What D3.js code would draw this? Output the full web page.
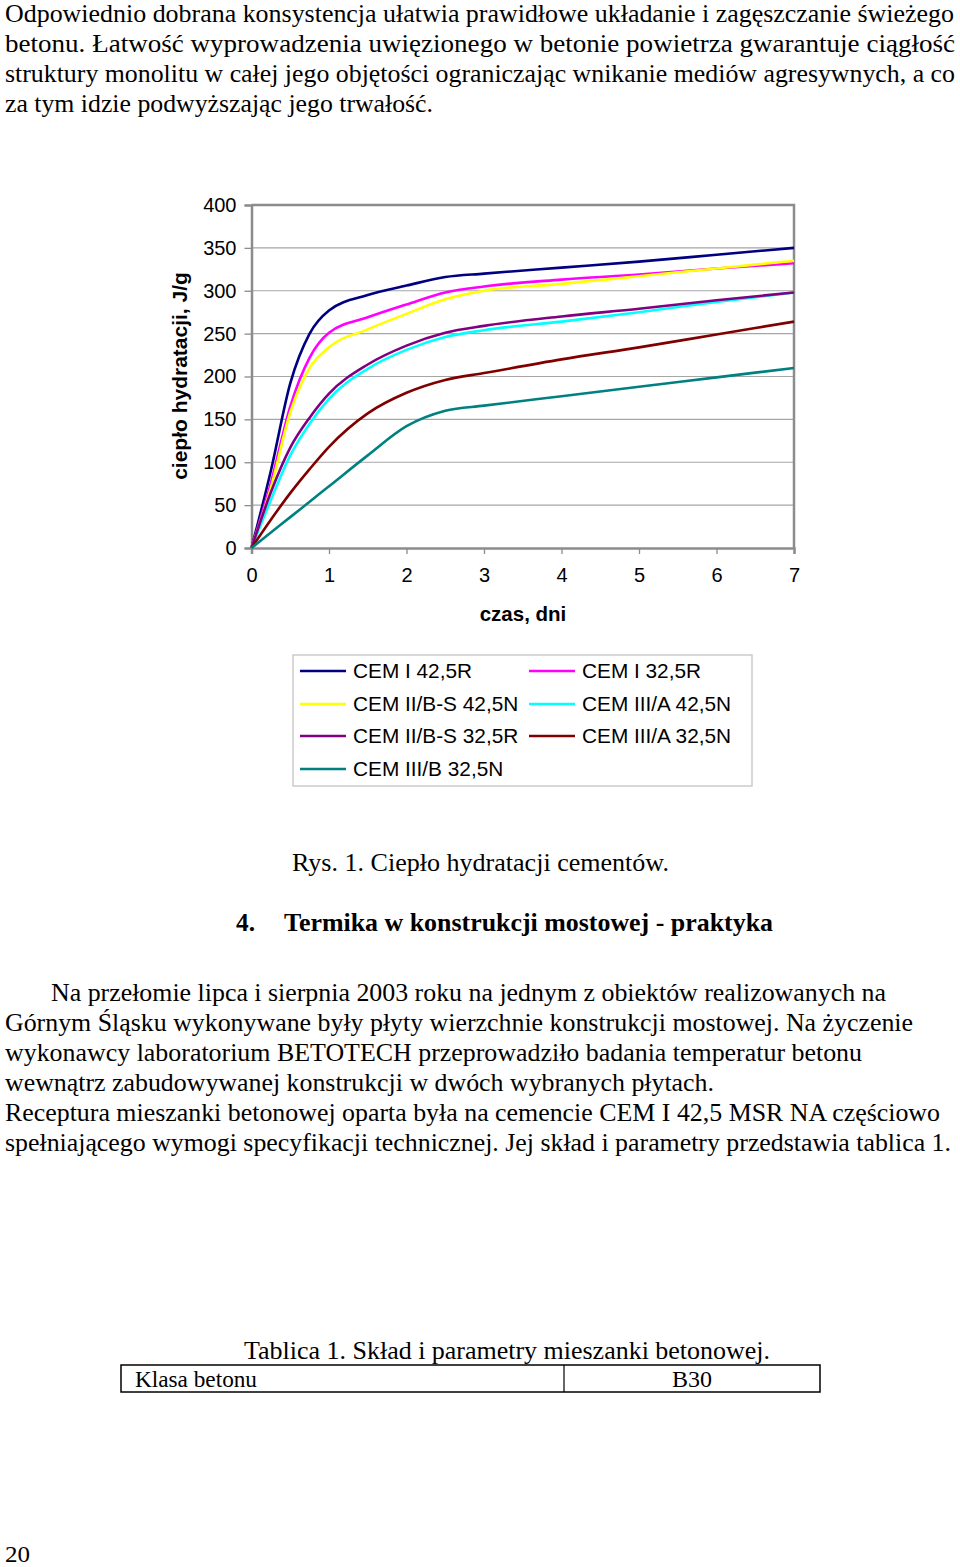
<!DOCTYPE html>
<html>
<head>
<meta charset="utf-8">
<script src="https://cdn.jsdelivr.net/npm/d3@7"></script>
<style>
  html, body { margin: 0; padding: 0; background: #fff; }
  svg { display: block; }
</style>
</head>
<body>
<svg id="page" width="960" height="1567"></svg>
<script>
// ---------------- data ----------------
const days = [0, 0.25, 0.5, 0.75, 1, 1.5, 2, 2.5, 3, 4, 5, 6, 7];
const seriesNames = ["CEM I 42,5R", "CEM I 32,5R", "CEM II/B-S 42,5N", "CEM III/A 42,5N",
                     "CEM II/B-S 32,5R", "CEM III/A 32,5N", "CEM III/B 32,5N"];
const cemI425R    = [0, 90, 192, 250, 277, 295, 306, 316, 320, 327, 334, 342, 350];
const cemI325R    = [0, 76, 165, 222, 251, 269, 284, 298, 305, 313, 319, 326, 332];
const cemIIBS425N = [0, 70, 158, 210, 234, 255, 273, 290, 300, 308, 317, 326, 335];
const cemIIIA425N = [0, 56, 108, 145, 174, 209, 231, 246, 254, 264, 275, 287, 298];
const cemIIBS325R = [0, 65, 117, 152, 180, 214, 236, 251, 259, 270, 279, 289, 298];
const cemIIIA325N = [0, 33, 64, 92, 118, 157, 181, 196, 204, 220, 234, 249, 264];
const cemIIIB325N = [0, 18, 36, 54, 72, 108, 142, 160, 166, 177, 188, 199, 210];
const seriesValues = [cemI425R, cemI325R, cemIIBS425N, cemIIIA425N, cemIIBS325R, cemIIIA325N, cemIIIB325N];
const seriesColors = ["#000080", "#ff00ff", "#ffff00", "#00ffff", "#800080", "#800000", "#008080"];
const xTicks = [0, 1, 2, 3, 4, 5, 6, 7];
const yTicks = [0, 50, 100, 150, 200, 250, 300, 350, 400];
const yTitle = "ciepło hydratacji, J/g";
const xTitle = "czas, dni";

// ---------------- page text ----------------
const introLines = [
  {t: "Odpowiednio dobrana konsystencja ułatwia prawidłowe układanie i zagęszczanie świeżego", x: 5, y: 22, w: 949},
  {t: "betonu. Łatwość wyprowadzenia uwięzionego w betonie powietrza gwarantuje ciągłość", x: 5, y: 52, w: 950},
  {t: "struktury monolitu w całej jego objętości ograniczając wnikanie mediów agresywnych, a co", x: 5, y: 82, w: 950},
  {t: "za tym idzie podwyższając jego trwałość.", x: 5, y: 112, w: 428}
];
const paraLines = [
  {t: "Na przełomie lipca i sierpnia 2003 roku na jednym z obiektów realizowanych na", x: 51, y: 1001, w: 835},
  {t: "Górnym Śląsku wykonywane były płyty wierzchnie konstrukcji mostowej. Na życzenie", x: 5, y: 1031, w: 908},
  {t: "wykonawcy laboratorium BETOTECH przeprowadziło badania temperatur betonu", x: 5, y: 1061, w: 857},
  {t: "wewnątrz zabudowywanej konstrukcji w dwóch wybranych płytach.", x: 5, y: 1091, w: 709},
  {t: "Receptura mieszanki betonowej oparta była na cemencie CEM I 42,5 MSR NA częściowo", x: 5, y: 1121, w: 935},
  {t: "spełniającego wymogi specyfikacji technicznej. Jej skład i parametry przedstawia tablica 1.", x: 5, y: 1151, w: 946}
];

const SERIF = "'Liberation Serif', 'Times New Roman', Times, serif";
const SANS = "'Liberation Sans', Arial, Helvetica, sans-serif";
const svg = d3.select("#page");

function serifLine(l, opts) {
  opts = opts || {};
  return svg.append("text")
    .attr("font-family", SERIF)
    .attr("fill", "#000")
    .attr("x", l.x).attr("y", l.y)
    .attr("font-size", opts.size || 26)
    .attr("font-weight", opts.bold ? "bold" : "normal")
    .attr("textLength", l.w).attr("lengthAdjust", "spacingAndGlyphs")
    .text(l.t);
}
introLines.forEach(l => serifLine(l, {size: 24.5}));
paraLines.forEach(l => serifLine(l));

serifLine({t: "Rys. 1. Ciepło hydratacji cementów.", x: 292, y: 871, w: 377});
serifLine({t: "4.", x: 236, y: 931, w: 19}, {bold: true});
serifLine({t: "Termika w konstrukcji mostowej - praktyka", x: 284, y: 931, w: 489}, {bold: true});
serifLine({t: "Tablica 1. Skład i parametry mieszanki betonowej.", x: 244, y: 1359, w: 526});

// table
svg.append("rect").attr("x", 121).attr("y", 1365).attr("width", 699).attr("height", 27)
  .attr("fill", "none").attr("stroke", "#000").attr("stroke-width", 1.5);
svg.append("line").attr("x1", 564).attr("x2", 564).attr("y1", 1365).attr("y2", 1392)
  .attr("stroke", "#000").attr("stroke-width", 1.2);
serifLine({t: "Klasa betonu", x: 135, y: 1387, w: 122}, {size: 24});
serifLine({t: "B30", x: 672, y: 1387, w: 40}, {size: 24});
serifLine({t: "20", x: 5, y: 1562, w: 25}, {size: 24});

// ---------------- chart ----------------
const x = d3.scaleLinear().domain([0, 7]).range([251.5, 794]);
const y = d3.scaleLinear().domain([0, 400]).range([548, 205]);

const chart = svg.append("g");

// gridlines
chart.append("g").selectAll("line").data(yTicks.filter(v => v > 0 && v < 400)).join("line")
  .attr("x1", x(0)).attr("x2", x(7))
  .attr("y1", d => y(d)).attr("y2", d => y(d))
  .attr("stroke", "#a6a6a6").attr("stroke-width", 1.2);

// plot border (top/right)
chart.append("path")
  .attr("d", `M${x(0)},${y(400)}H${x(7)}V${y(0)}`)
  .attr("fill", "none").attr("stroke", "#8c8c8c").attr("stroke-width", 2.5);

// axes
const yAxis = d3.axisLeft(y).tickValues(yTicks).tickSize(7).tickPadding(8).tickFormat(d3.format("d"));
const xAxis = d3.axisBottom(x).tickValues(xTicks).tickSize(6).tickPadding(14).tickFormat(d3.format("d"));

const gy = chart.append("g").attr("transform", `translate(${x(0)},0)`).call(yAxis);
const gx = chart.append("g").attr("transform", `translate(0,${y(0)})`).call(xAxis);
[gy, gx].forEach(g => {
  g.select(".domain").attr("stroke", "#8c8c8c").attr("stroke-width", 2.5);
  g.selectAll(".tick line").attr("stroke", "#8c8c8c").attr("stroke-width", 1.3);
  g.selectAll(".tick text").attr("font-family", SANS)
    .attr("font-size", 20).attr("fill", "#000");
});
gy.selectAll(".tick text").attr("x", -15);
gx.selectAll(".tick text").attr("dy", "0.71em");

// lines
const line = d3.line().x((d, i) => x(days[i])).y(d => y(d)).curve(d3.curveMonotoneX);
chart.append("g").selectAll("path").data(seriesValues).join("path")
  .attr("d", d => line(d))
  .attr("fill", "none")
  .attr("stroke", (d, i) => seriesColors[i])
  .attr("stroke-width", 2.6)
  .attr("stroke-linejoin", "round");

// axis titles
svg.append("text").attr("font-family", SANS).attr("fill", "#000")
  .attr("transform", `translate(187,376) rotate(-90)`)
  .attr("text-anchor", "middle").attr("font-size", 21).attr("font-weight", "bold")
  .text(yTitle);
svg.append("text").attr("font-family", SANS).attr("fill", "#000")
  .attr("x", 523).attr("y", 621)
  .attr("text-anchor", "middle").attr("font-size", 20.5).attr("font-weight", "bold")
  .text(xTitle);

// legend
const lg = svg.append("g");
lg.append("rect").attr("x", 293).attr("y", 655).attr("width", 459).attr("height", 131)
  .attr("fill", "#fff").attr("stroke", "#c4c4c4").attr("stroke-width", 1.3);
const rowsY = [671, 704, 736, 769];
const colsX = [300, 529];
seriesNames.forEach((name, i) => {
  const cx = colsX[i % 2], cy = rowsY[Math.floor(i / 2)];
  lg.append("line").attr("x1", cx).attr("x2", cx + 46).attr("y1", cy).attr("y2", cy)
    .attr("stroke", seriesColors[i]).attr("stroke-width", 2.6);
  lg.append("text").attr("font-family", SANS).attr("fill", "#000")
    .attr("x", cx + 53).attr("y", cy).attr("dy", "0.36em")
    .attr("font-size", 20.8).text(name);
});
</script>
</body>
</html>
